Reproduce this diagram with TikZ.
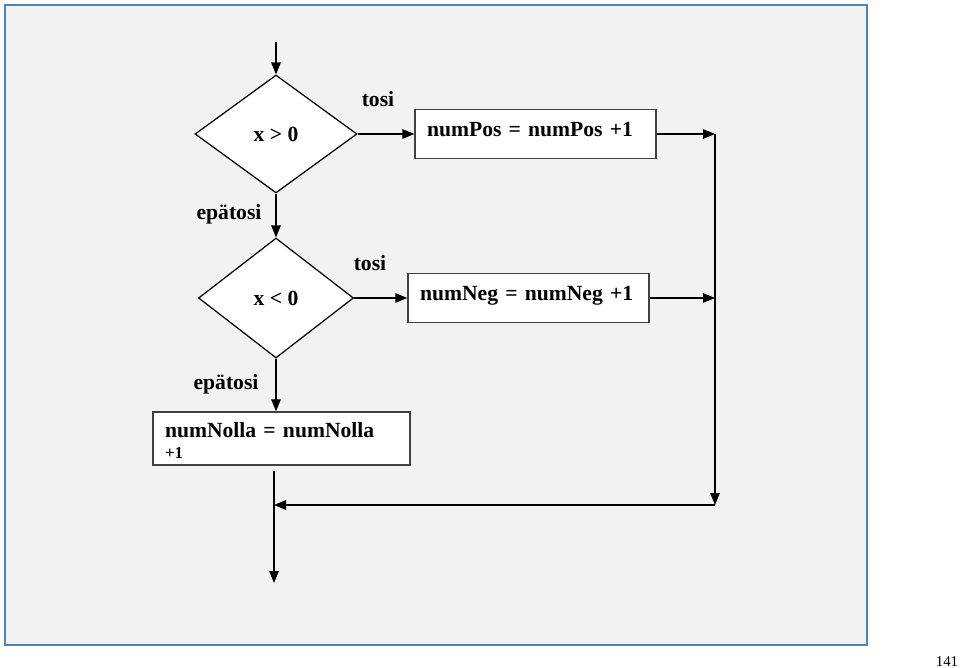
\documentclass[tikz,border=0pt]{standalone}
\usepackage{fontspec}
\setmainfont{Liberation Serif}
\usetikzlibrary{shapes.geometric,arrows.meta}
\definecolor{panelfill}{RGB}{242,242,242}
\definecolor{panelline}{RGB}{79,129,189}
\tikzset{
  arr/.style={line width=0.7pt, -{Triangle[length=0.24cm,width=0.19cm]}},
  ehto/.style={diamond, draw=black, line width=0.7pt, fill=white, inner sep=0pt,
               font=\bfseries\fontsize{12.3}{14}\selectfont},
  lause/.style={rectangle, draw=black!75, line width=0.8pt, fill=white,
                inner xsep=0.24cm, inner ysep=0pt, align=left,
                font=\bfseries\fontsize{12.3}{14}\selectfont},
  haara/.style={font=\bfseries\fontsize{12.3}{14}\selectfont},
}
\begin{document}
\begin{tikzpicture}[x=0.02cm, y=-0.02cm]
        \useasboundingbox (0,0) rectangle (960,668);
        \draw [panelline, line width=1.3pt, fill=panelfill] (5,5) rectangle (867,645); %panel
        \node [ehto, minimum width=3.24cm, minimum height=2.36cm] (d1) at (276,134) {x > 0};    %x>0
        \node [ehto, minimum width=3.1cm, minimum height=2.4cm]   (d2) at (276,298) {x < 0};    %x<0
        \node [lause, text width=4.34cm, text height=0.54cm, text depth=0.44cm]
              (b1) at (535.5,134)   {numPos = numPos +1};                                      %tosi 1
        \node [lause, text width=4.34cm, text height=0.54cm, text depth=0.44cm]
              (b2) at (528.5,298)   {numNeg = numNeg +1};                                      %tosi 2
        \node [lause, text width=4.66cm, text height=0.52cm, text depth=0.54cm]
              (b3) at (281.5,438.5) {numNolla = numNolla\\[-2.6pt]{\fontsize{9.5}{11}\selectfont +1}}; %epatosi 2
        \node [haara] (t1) at (378,99)  {tosi};                                                 %
        \node [haara] (t2) at (370,263) {tosi};                                                 %
        \node [haara] (e1) at (229,214) {epätosi};                                              %
        \node [haara] (e2) at (226,384) {epätosi};                                              %
        \coordinate (alku)  at (276,42);                                                        %
        \coordinate (j1)    at (715,134);                                                       %
        \coordinate (j2)    at (715,298);                                                       %
        \coordinate (j3)    at (715,505);                                                       %
        \coordinate (ulos)  at (274,471);                                                       %
        \coordinate (loppu) at (274,583);                                                       %
        \draw [arr] (alku) -- (d1.north);                                                       %
        \draw [arr] (d1.south) -- (d2.north);                                                   %
        \draw [arr] (d1.east) -- (b1.west);                                                     %
        \draw [arr] (d2.east) -- (b2.west);                                                     %
        \draw [arr] (d2.south) -- (d2.south |- b3.north);                                       %
        \draw [arr] (b1.east) -- (j1);                                                          %
        \draw [arr] (b2.east) -- (j2);                                                          %
        \draw [arr] (j1) -- (j3);                                                               %
        \draw [arr] (j3) -- (ulos |- j3);                                                       %
        \draw [arr] (ulos) -- (loppu);                                                          %
        \node (sivu) at (947,662) {\fontsize{8.5}{10}\selectfont 141};                          %page
       \end{tikzpicture}
\end{document}
